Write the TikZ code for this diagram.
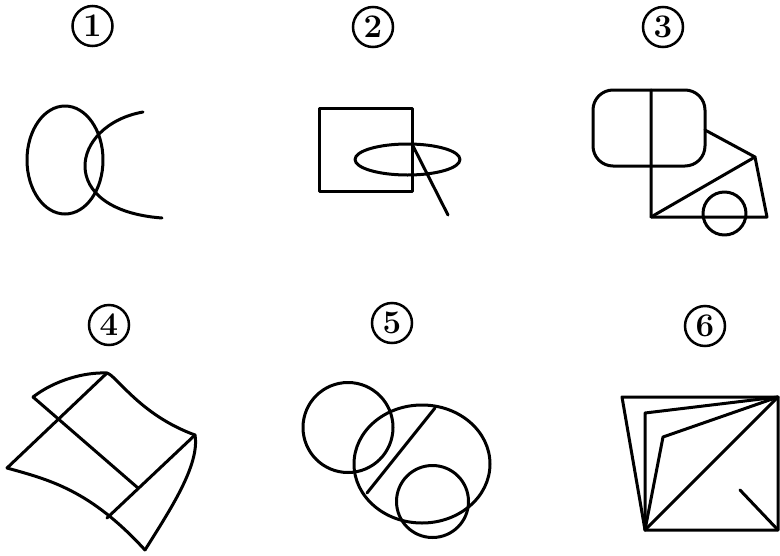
\documentclass[tikz,border=0pt]{standalone}
\usepackage{tikz}
\usetikzlibrary{calc}
\tikzset{
  figline/.style={line width=3pt, line join=round, line cap=round},
  numtag/.style={circle, draw, line width=2.5pt, minimum size=40pt, inner sep=0pt,
    font=\fontsize{33}{33}\selectfont\bfseries}
}

\begin{document}
\begin{tikzpicture}[x=1pt, y=-1pt]
  \useasboundingbox (0,0) rectangle (780,555);
  \node[numtag] (tagone) at (92.5,26) {1};
  \node[numtag] (tagtwo) at (373,27) {2};
  \node[numtag] (tagthree) at (663,27) {3};
  \node[numtag] (tagfour) at (109,325) {4};
  \node[numtag] (tagfive) at (392,323) {5};
  \node[numtag] (tagsix) at (705,326) {6};

  \draw[figline] (65,160) ellipse [x radius=38, y radius=54];
  \draw[figline] (143,112) .. controls (70,125) and (55,210) .. (162,218);

  \draw[figline] (319,108) rectangle (412,191);
  \draw[figline] (407.5,159.5) ellipse [x radius=52.5, y radius=15.5];
  \coordinate (rimtop) at (412,144);
  \coordinate (stick) at (448,215);
  \draw[figline] (rimtop) -- (stick);

  \draw[figline, rounded corners=20pt] (593,90) rectangle (705,166);
  \coordinate (cabtop) at (651,90);
  \coordinate (cabfoot) at (651,217);
  \coordinate (hitch) at (705,130);
  \coordinate (apex) at (755,157);
  \coordinate (tail) at (767,217);
  \draw[figline] (cabtop) -- (cabfoot) -- (tail) -- (apex) -- (hitch);
  \draw[figline] (cabfoot) -- (apex);
  \draw[figline] (724.5,213.5) circle [radius=21.5];

  \coordinate (flapend) at (33,397);
  \coordinate (peak) at (107,373);
  \coordinate (rightcorner) at (195,435);
  \coordinate (bottom) at (145,550);
  \coordinate (leftcorner) at (7,468);
  \coordinate (meet) at (138,488);
  \coordinate (lowfoot) at (107,518);
  \draw[figline] (flapend) .. controls (55,380) and (85,372) .. (peak)
    .. controls (117,376) and (140,415) .. (rightcorner)
    .. controls (200,465) and (170,510) .. (bottom);
  \draw[figline] (leftcorner) .. controls (50,480) and (90,490) .. (bottom);
  \draw[figline] (peak) -- (leftcorner);
  \draw[figline] (flapend) -- (meet);
  \draw[figline] (rightcorner) -- (lowfoot);

  \draw[figline] (348,427.5) circle [radius=45];
  \draw[figline] (422,464) ellipse [x radius=68, y radius=59];
  \draw[figline] (432.5,501.5) circle [radius=36];
  \coordinate (chordtop) at (435,408);
  \coordinate (chordfoot) at (367,493);
  \draw[figline] (chordtop) -- (chordfoot);

  \coordinate (topleft) at (622,397);
  \coordinate (topright) at (778,397);
  \coordinate (bottomleft) at (645,530);
  \coordinate (bottomright) at (778,530);
  \coordinate (kinkone) at (645,413);
  \coordinate (kinktwo) at (663,437);
  \coordinate (tick) at (740,490);
  \draw[figline] (topleft) -- (topright) -- (bottomright) -- (bottomleft) -- cycle;
  \draw[figline] (bottomleft) -- (topright);
  \draw[figline] (bottomleft) -- (kinkone) -- (topright);
  \draw[figline] (bottomleft) -- (kinktwo) -- (topright);
  \draw[figline] (tick) -- (bottomright);
\end{tikzpicture}
\end{document}
